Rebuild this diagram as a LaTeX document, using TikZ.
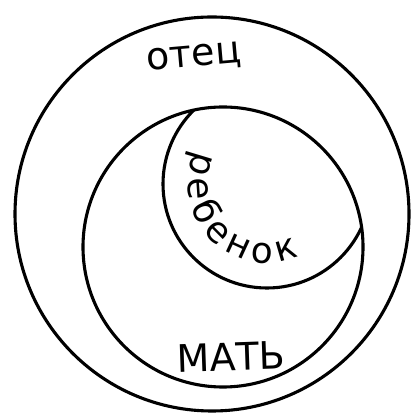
\documentclass[tikz,border=0pt]{standalone}
\usepackage{fontspec}
\setmainfont{DejaVu Sans}
\usetikzlibrary{decorations.text}

\tikzset{
    ring/.style={line width=3.1pt, black},
    setname/.style={font=\fontsize{38}{44}\selectfont, inner sep=0pt}
}

\begin{document}
\begin{tikzpicture}[x=1pt, y=1pt]

    \useasboundingbox (0,0) rectangle (411,419);

    % ==========================================
    % 1. CENTRES
    % ==========================================
    \coordinate (father) at (212,205);
    \coordinate (mother) at (223,172);
    \coordinate (child)  at (267,235);

    % ==========================================
    % 2. CIRCLES
    % ==========================================
    \draw[ring] (father) circle[radius=197];
    \draw[ring] (mother) circle[radius=140];

    % child circle only where it lies inside the mother
    \begin{scope}
        \clip (mother) circle[radius=140];
        \draw[ring] (child) circle[radius=104];
    \end{scope}

    % ==========================================
    % 3. NAMES
    % ==========================================
    \node[setname, rotate=5] (otec) at (194,361) {отец};
    \node[setname, rotate=2] (mat)  at (231,62)  {МАТЬ};

    % name of the child, bent along its own circle
    \path[decorate, decoration={text along path, text align={fit to path},
        text={|\fontsize{36}{42}\selectfont|ребенок}}]
        (child) ++(155:79) arc[start angle=155, end angle=294, radius=79];

\end{tikzpicture}
\end{document}
